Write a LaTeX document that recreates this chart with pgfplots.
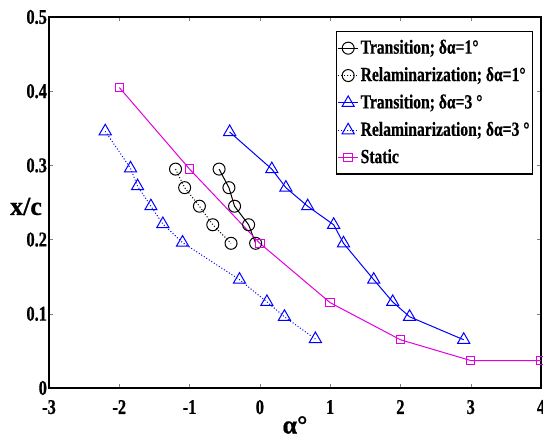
\documentclass[border=0pt]{standalone}
\usepackage{fontspec}
\setmainfont{Liberation Serif}[FakeStretch=0.78, BoldFeatures={FakeBold=0.6}]
\newfontfamily\labelfont{Liberation Serif}[BoldFeatures={FakeBold=0.6}]
\usepackage{pgfplots}
\pgfplotsset{compat=1.18}
\definecolor{mag}{RGB}{225,0,225}

\begin{document}
\begin{tikzpicture}
\begin{axis}[
    scale only axis,
    width=246pt, height=185.5pt,
    xmin=-3, xmax=4, ymin=0, ymax=0.5,
    xtick={-3,-2,-1,0,1,2,3,4},
    ytick={0,0.1,0.2,0.3,0.4,0.5},
    tick align=inside,
    major tick length=2pt,
    axis line style={line width=0.8pt},
    /pgf/number format/assume math mode=true,
    tick label style={font=\fontsize{10.5}{12}\selectfont\bfseries},
    xticklabel style={yshift=-2.5pt},
    yticklabel style={xshift=2.5pt},
    xlabel={α°}, ylabel={x/c},
    label style={font=\labelfont\fontsize{13}{15}\selectfont\bfseries},
    xlabel style={at={(axis description cs:0.5,0)}, anchor=center, yshift=-18.5pt},
    ylabel style={rotate=-90, at={(axis description cs:0,0.5)}, anchor=center,
        xshift=-11.5pt, yshift=-2pt},
    legend style={at={(0.984,0.962)}, anchor=north east, font=\bfseries,
        draw=black, line width=0.6pt, row sep=1.2pt, inner xsep=0.5pt, inner ysep=2pt,
        nodes={inner xsep=1pt}},
    legend cell align=left,
    legend image code/.code={\draw[#1, mark repeat=2, mark phase=2]
        plot coordinates {(0pt,0pt) (5pt,0pt) (10pt,0pt)};},
]
% transition, 1 deg
\addplot[black, line width=0.5pt, mark=o, mark size=3pt] coordinates {
    (-0.58,0.295) (-0.44,0.27) (-0.36,0.245) (-0.16,0.22) (-0.06,0.195)
};
% relaminarization, 1 deg
\addplot[black, line width=0.5pt, dash pattern=on 0.5pt off 1pt, mark=o, mark size=3pt,
    mark options={solid}] coordinates {
    (-1.2,0.295) (-1.07,0.27) (-0.86,0.245) (-0.67,0.22) (-0.41,0.195)
};
% transition, 3 deg
\addplot[blue, line width=0.5pt, mark=triangle, mark size=3.5pt] coordinates {
    (-0.43,0.345) (0.17,0.295) (0.37,0.27) (0.68,0.245) (1.05,0.22)
    (1.19,0.195) (1.62,0.146) (1.89,0.116) (2.13,0.096) (2.9,0.065)
};
% relaminarization, 3 deg
\addplot[blue, line width=0.5pt, dash pattern=on 0.5pt off 1pt, mark=triangle, mark size=3.5pt,
    mark options={solid}] coordinates {
    (-2.2,0.346) (-1.84,0.296) (-1.74,0.272) (-1.55,0.245) (-1.38,0.221)
    (-1.1,0.196) (-0.29,0.146) (0.1,0.116) (0.35,0.096) (0.79,0.066)
};
% static
\addplot[mag, line width=0.5pt, mark=square, mark size=2.1pt] coordinates {
    (-2,0.405) (-1,0.295) (0,0.195) (1,0.115) (2,0.065) (3,0.037) (4,0.037)
};
\legend{Transition; δα=1°, Relaminarization; δα=1°, Transition; δα=3 °,
    Relaminarization; δα=3 °, Static}
\end{axis}
% page frame as in the reference (the last tick label runs off the right edge)
\pgfresetboundingbox
\path ([shift={(-24.5pt,-26.5pt)}]current axis.south west)
    rectangle ([shift={(1pt,8.5pt)}]current axis.north east);
\end{tikzpicture}
\end{document}
